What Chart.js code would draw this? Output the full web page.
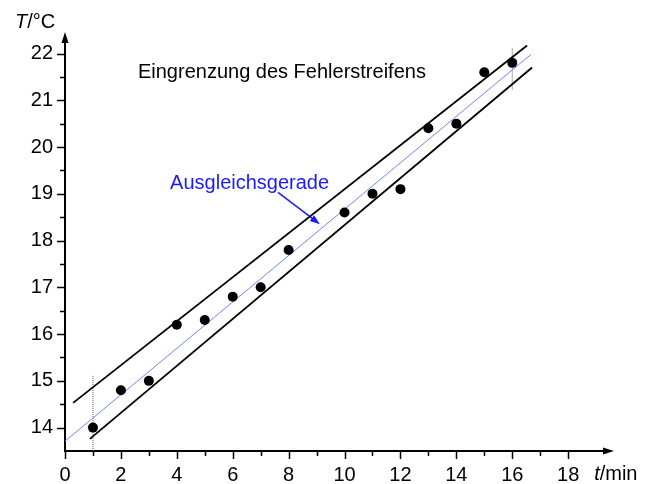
<!DOCTYPE html>
<html>
<head>
<meta charset="utf-8">
<script src="https://cdn.jsdelivr.net/npm/chart.js@4.4.1/dist/chart.umd.min.js"></script>
<style>
  html, body { margin: 0; padding: 0; background: #ffffff; }
  #wrap { width: 651px; height: 484px; }
</style>
</head>
<body>
<div id="wrap"><canvas id="c" width="651" height="484"></canvas></div>
<script>
// Measured temperature T (°C) at time t (min)
const tMin = [1, 2, 3, 4, 5, 6, 7, 8, 10, 11, 12, 13, 14, 15, 16];
const tempC = [14.0, 14.8, 15.0, 16.2, 16.3, 16.8, 17.0, 17.8, 18.6, 19.0, 19.1, 20.4, 20.5, 21.6, 21.8];

// Best-fit line and the two lines bounding the error band (end points)
const fitLine = [{ x: 0, y: 13.71 }, { x: 16.67, y: 21.98 }];
const upperBound = [{ x: 0.29, y: 14.53 }, { x: 16.53, y: 22.17 }];
const lowerBound = [{ x: 0.89, y: 13.76 }, { x: 16.71, y: 21.70 }];

// Dotted verticals marking the band width at the first and last point
const markFirst = [{ x: 1, y: 13.5 }, { x: 1, y: 15.13 }];
const markLast = [{ x: 16, y: 21.23 }, { x: 16, y: 22.13 }];

// Axis ticks
const xTickLabels = [0, 2, 4, 6, 8, 10, 12, 14, 16, 18];
const xMinorTicks = [1, 3, 5, 7, 9, 11, 13, 15, 17];
const yTickLabels = [14, 15, 16, 17, 18, 19, 20, 21, 22];
const yMinorTicks = [14.5, 15.5, 16.5, 17.5, 18.5, 19.5, 20.5, 21.5];

const FONT = "'Liberation Sans', Arial, Helvetica, sans-serif";

// Axis lines with arrowheads, tick marks, axis titles and annotations
const decorations = {
  id: 'decorations',
  beforeDatasetsDraw(chart) {
    const ctx = chart.ctx;
    const xs = chart.scales.x, ys = chart.scales.y;
    const x0 = xs.getPixelForValue(0);
    const yb = ys.getPixelForValue(13.5);
    const xEnd = xs.getPixelForValue(xs.max);
    const yTop = ys.getPixelForValue(ys.max);
    ctx.save();
    ctx.strokeStyle = '#000';
    ctx.fillStyle = '#000';
    ctx.lineWidth = 2;
    // axis lines
    ctx.beginPath();
    ctx.moveTo(x0, yb + 1); ctx.lineTo(x0, yTop + 8);
    ctx.moveTo(x0 - 1, yb); ctx.lineTo(xEnd - 8, yb);
    ctx.stroke();
    // arrowheads
    ctx.beginPath();
    ctx.moveTo(x0, yTop); ctx.lineTo(x0 - 3.5, yTop + 11); ctx.lineTo(x0 + 3.5, yTop + 11); ctx.closePath();
    ctx.fill();
    ctx.beginPath();
    ctx.moveTo(xEnd, yb); ctx.lineTo(xEnd - 11, yb - 3.5); ctx.lineTo(xEnd - 11, yb + 3.5); ctx.closePath();
    ctx.fill();
    // tick marks
    ctx.lineWidth = 1.5;
    ctx.beginPath();
    xTickLabels.forEach(v => { const p = Math.round(xs.getPixelForValue(v)) + 0.5; ctx.moveTo(p, yb); ctx.lineTo(p, yb + 8); });
    xMinorTicks.forEach(v => { const p = Math.round(xs.getPixelForValue(v)) + 0.5; ctx.moveTo(p, yb); ctx.lineTo(p, yb + 5); });
    yTickLabels.forEach(v => { const p = Math.round(ys.getPixelForValue(v)) + 0.5; ctx.moveTo(x0, p); ctx.lineTo(x0 - 8, p); });
    yMinorTicks.forEach(v => { const p = Math.round(ys.getPixelForValue(v)) + 0.5; ctx.moveTo(x0, p); ctx.lineTo(x0 - 5, p); });
    ctx.stroke();

    // axis titles
    ctx.textBaseline = 'alphabetic';
    ctx.textAlign = 'left';
    ctx.font = 'italic 20px ' + FONT;
    ctx.fillText('T', 15, 28);
    let w = ctx.measureText('T').width;
    ctx.font = '20px ' + FONT;
    ctx.fillText('/°C', 15 + w, 28);
    const tx = xs.getPixelForValue(18) + 26;
    ctx.font = 'italic 20px ' + FONT;
    ctx.fillText('t', tx, 480);
    w = ctx.measureText('t').width;
    ctx.font = '20px ' + FONT;
    ctx.fillText('/min', tx + w, 480);

    // annotations
    ctx.fillStyle = '#000';
    ctx.fillText('Eingrenzung des Fehlerstreifens', xs.getPixelForValue(2.61), ys.getPixelForValue(21.47));
    ctx.fillStyle = '#1a1aff';
    ctx.fillText('Ausgleichsgerade', xs.getPixelForValue(3.76), ys.getPixelForValue(19.11));
    // arrow pointing at the fit line
    const ax1 = xs.getPixelForValue(7.62), ay1 = ys.getPixelForValue(19.03);
    const ax2 = xs.getPixelForValue(9.12), ay2 = ys.getPixelForValue(18.35);
    const ang = Math.atan2(ay2 - ay1, ax2 - ax1);
    ctx.strokeStyle = '#1a1aff';
    ctx.lineWidth = 1.5;
    ctx.beginPath();
    ctx.moveTo(ax1, ay1);
    ctx.lineTo(ax2 - 8 * Math.cos(ang), ay2 - 8 * Math.sin(ang));
    ctx.stroke();
    ctx.beginPath();
    ctx.moveTo(ax2, ay2);
    ctx.lineTo(ax2 - 10 * Math.cos(ang) + 3.5 * Math.sin(ang), ay2 - 10 * Math.sin(ang) - 3.5 * Math.cos(ang));
    ctx.lineTo(ax2 - 10 * Math.cos(ang) - 3.5 * Math.sin(ang), ay2 - 10 * Math.sin(ang) + 3.5 * Math.cos(ang));
    ctx.closePath();
    ctx.fillStyle = '#1a1aff';
    ctx.fill();
    ctx.restore();
  }
};

const lineDs = (data, color, width, dash) => ({
  data, showLine: true, borderColor: color, borderWidth: width,
  borderDash: dash || [], pointRadius: 0, fill: false, clip: false
});

new Chart(document.getElementById('c'), {
  type: 'scatter',
  data: {
    datasets: [
      {
        data: tMin.map((t, i) => ({ x: t, y: tempC[i] })),
        pointRadius: 5, pointHoverRadius: 5,
        backgroundColor: '#000', borderWidth: 0, clip: false
      },
      lineDs(fitLine, '#6c87ff', 1),
      lineDs(upperBound, '#000', 1.8),
      lineDs(lowerBound, '#000', 1.8),
      lineDs(markFirst, '#666', 1, [1, 1]),
      lineDs(markLast, '#555', 1, [1, 1])
    ]
  },
  options: {
    responsive: false,
    animation: false,
    events: [],
    layout: { padding: { top: 32, right: 37, left: 0, bottom: 0 } },
    plugins: { legend: { display: false }, tooltip: { enabled: false } },
    scales: {
      x: {
        type: 'linear', min: 0, max: 19.64,
        afterBuildTicks: s => { s.ticks = xTickLabels.map(v => ({ value: v })); },
        afterFit: s => { s.height = 33; },
        grid: { display: false, drawTicks: true, tickLength: 8 },
        border: { display: false },
        ticks: { color: '#000', font: { family: FONT, size: 20 }, padding: 4, maxRotation: 0, autoSkip: false }
      },
      y: {
        type: 'linear', min: 13.5, max: 22.46,
        afterBuildTicks: s => { s.ticks = yTickLabels.map(v => ({ value: v })); },
        afterFit: s => { s.width = 65; },
        grid: { display: false, drawTicks: true, tickLength: 8 },
        border: { display: false },
        ticks: { color: '#000', font: { family: FONT, size: 20 }, padding: 4, autoSkip: false }
      }
    }
  },
  plugins: [decorations]
});
</script>
</body>
</html>
